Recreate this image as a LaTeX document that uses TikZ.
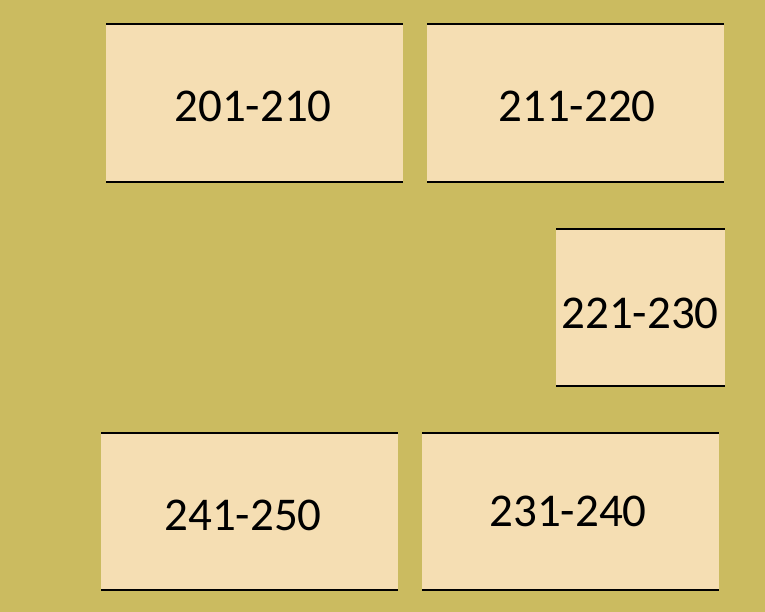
\documentclass[tikz,border=0pt]{standalone}
\usepackage{fontspec}
\setmainfont{Carlito}
\definecolor{bgcol}{RGB}{203,187,96}
\definecolor{boxcol}{RGB}{245,222,179}
\tikzset{
  room/.style={fill=boxcol, draw=none, inner sep=0pt, outer sep=0pt},
  edge/.style={draw=black, line width=2pt},
  lbl/.style={font=\fontsize{47}{50}\selectfont, text=black, inner sep=0pt}
}
\begin{document}
\begin{tikzpicture}[x=1pt,y=-1pt]
\fill[bgcol] (0,0) rectangle (765,612);
\useasboundingbox (0,0) rectangle (765,612);
\node[room, minimum width=297pt, minimum height=158pt, anchor=north west] (a) at (106,24) {};
\node[room, minimum width=297pt, minimum height=158pt, anchor=north west] (b) at (427,24) {};
\node[room, minimum width=169pt, minimum height=157pt, anchor=north west] (c) at (556,229) {};
\node[room, minimum width=297pt, minimum height=157pt, anchor=north west] (d) at (101,433) {};
\node[room, minimum width=297pt, minimum height=157pt, anchor=north west] (e) at (422,433) {};
\foreach \n in {a,b,c,d,e}{
  \draw[edge] (\n.north west) -- (\n.north east);
  \draw[edge] (\n.south west) -- (\n.south east);
}
\node[lbl] (ta) at (253,106) {201-210};
\node[lbl] (tb) at (577,106) {211-220};
\node[lbl] (tc) at (640,313) {221-230};
\node[lbl] (td) at (243,515) {241-250};
\node[lbl] (te) at (568,511) {231-240};
\end{tikzpicture}
\end{document}
